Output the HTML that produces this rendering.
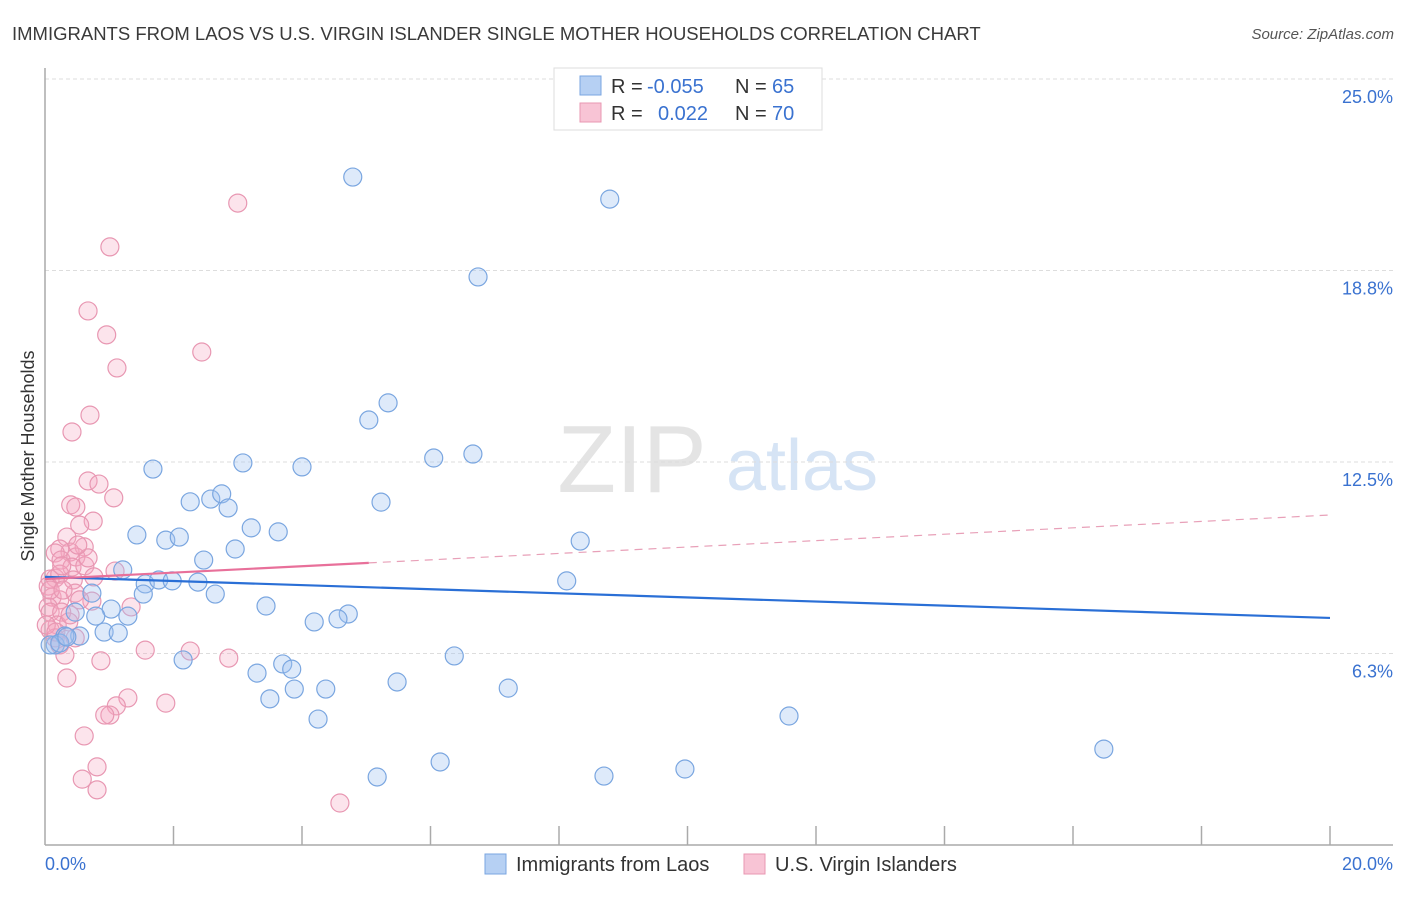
<!DOCTYPE html>
<html><head><meta charset="utf-8"><style>
body{margin:0;background:#fff;font-family:"Liberation Sans",sans-serif}
svg text{font-family:"Liberation Sans",sans-serif}
</style></head><body>
<svg id="c" width="1406" height="892" xmlns="http://www.w3.org/2000/svg">
<text x="12" y="40" font-size="18.5" fill="#3a3a3a">IMMIGRANTS FROM LAOS VS U.S. VIRGIN ISLANDER SINGLE MOTHER HOUSEHOLDS CORRELATION CHART</text>
<text x="1394" y="39" font-size="15" fill="#555" font-style="italic" text-anchor="end">Source: ZipAtlas.com</text>
<text x="632" y="492" font-size="96" fill="#e4e4e4" font-family="Liberation Serif" text-anchor="middle">ZIP</text>
<text x="802" y="490" font-size="72" fill="#d6e4f5" text-anchor="middle">atlas</text>
<text transform="translate(34,456) rotate(-90)" font-size="18" fill="#333" text-anchor="middle">Single Mother Households</text>
<g id="grid"></g><g id="pts"></g><g id="lines"></g>
<g>
<rect x="554" y="68" width="268" height="62" fill="#fff" stroke="#ddd"/>
<rect x="580" y="76" width="21" height="19" fill="#b6d0f3" stroke="#7aa6e0"/>
<rect x="580" y="103" width="21" height="19" fill="#f8c4d5" stroke="#e897b2"/>
<text x="611" y="93" font-size="20" fill="#333">R =</text>
<text x="647" y="93" font-size="20" fill="#3a72d0">-0.055</text>
<text x="735" y="93" font-size="20" fill="#333">N =</text>
<text x="772" y="93" font-size="20" fill="#3a72d0">65</text>
<text x="611" y="120" font-size="20" fill="#333">R =</text>
<text x="658" y="120" font-size="20" fill="#3a72d0">0.022</text>
<text x="735" y="120" font-size="20" fill="#333">N =</text>
<text x="772" y="120" font-size="20" fill="#3a72d0">70</text>
</g>
<g>
<rect x="485" y="854" width="21" height="20" fill="#b6d0f3" stroke="#7aa6e0"/>
<text x="516" y="871" font-size="20" fill="#333">Immigrants from Laos</text>
<rect x="744" y="854" width="21" height="20" fill="#f8c4d5" stroke="#e897b2"/>
<text x="775" y="871" font-size="20" fill="#333">U.S. Virgin Islanders</text>
</g>
</svg>
<script>
const yTicks=[25,18.75,12.5,6.25];
const yTickLabels=["25.0%","18.8%","12.5%","6.3%"];
const xTicks=[0,2,4,6,8,10,12,14,16,18,20];
const xTickLabels=["0.0%","20.0%"];
const laosX=[4.79,8.79,6.74,5.34,5.04,6.05,6.66,1.68,3.08,4.00,2.26,2.58,2.75,2.85,5.23,1.43,1.88,2.09,3.21,3.63,2.96,2.47,8.33,1.21,1.56,1.77,1.98,2.38,2.65,8.12,0.73,1.53,1.03,1.29,0.47,3.44,4.72,4.56,4.19,0.92,1.14,0.54,0.31,0.16,0.08,0.23,2.15,3.30,3.70,3.84,6.37,3.50,3.88,4.37,5.48,7.21,4.25,11.58,16.48,6.15,5.17,8.70,9.96,0.34,0.79];
const laosY=[21.80,21.08,18.54,14.43,13.87,12.63,12.76,12.27,12.47,12.34,11.20,11.29,11.46,11.00,11.19,10.12,9.95,10.05,10.35,10.22,9.66,9.30,9.92,8.98,8.52,8.65,8.62,8.58,8.19,8.62,8.22,8.19,7.70,7.47,7.60,7.80,7.54,7.38,7.28,6.95,6.92,6.82,6.82,6.53,6.53,6.59,6.04,5.61,5.91,5.74,6.17,4.77,5.09,5.09,5.32,5.12,4.11,4.21,3.13,2.71,2.22,2.25,2.48,6.79,7.47];
const viX=[3.00,1.01,0.67,0.96,1.12,2.44,0.70,0.42,0.67,0.84,1.07,0.40,0.48,0.75,0.54,0.34,0.61,0.39,0.23,0.16,0.25,0.48,0.42,0.62,0.16,0.08,0.05,0.76,1.09,0.44,0.11,0.23,0.05,0.47,1.34,0.73,0.08,0.26,0.19,0.08,0.37,0.16,0.23,0.31,0.47,0.87,1.56,2.26,2.86,0.34,1.29,1.88,1.11,1.01,0.93,0.61,0.81,0.58,0.81,4.59,0.23,0.08,0.26,0.67,0.51,0.02,0.17,0.28,0.54,0.39];
const viY=[20.95,19.52,17.43,16.65,15.57,16.09,14.03,13.48,11.88,11.78,11.33,11.10,11.03,10.57,10.44,10.05,9.73,9.56,9.66,9.53,9.30,9.40,9.07,9.11,8.71,8.68,8.45,8.75,8.94,8.65,8.09,8.00,7.77,8.22,7.77,7.96,7.60,7.60,7.18,7.02,7.28,6.76,6.53,6.20,6.76,6.01,6.36,6.33,6.10,5.45,4.80,4.63,4.54,4.24,4.24,3.56,2.55,2.15,1.80,1.37,8.84,8.32,9.11,9.37,9.79,7.18,6.95,8.32,8.00,7.51];
const laosTrend=[8.75,7.41];
const viTrend=[8.68,10.77];
const viSolidEnd=5.04;
const X=v=>45+v*64.25, Y=v=>845-v*30.64;
const NS="http://www.w3.org/2000/svg";
function mk(tag,attrs,parent){const e=document.createElementNS(NS,tag);for(const k in attrs)e.setAttribute(k,attrs[k]);parent.appendChild(e);return e;}
const grid=document.getElementById('grid');
yTicks.forEach((t,i)=>{
 const l=mk('line',{x1:45,x2:1393,y1:Y(t),y2:Y(t),stroke:'#ddd','stroke-dasharray':'4,3'},grid);
 
 
 const tx=mk('text',{x:1393,y:Y(t)+24,'font-size':18,fill:'#3a72d0','text-anchor':'end'},grid);
 tx.textContent=yTickLabels[i];
 
 
});
const ya=mk('line',{x1:45,x2:45,y1:68,y2:845,stroke:'#aaa','stroke-width':1.5},grid);


const xa=mk('line',{x1:45,x2:1393,y1:845,y2:845,stroke:'#aaa','stroke-width':1.5},grid);


xTicks.forEach(t=>{if(t===0)return;
 const l=mk('line',{x1:X(t),x2:X(t),y1:826,y2:845,stroke:'#aaa','stroke-width':1.5},grid);
 
 
});
[[0,'start',45],[20,'end',1393]].forEach((a,i)=>{
 const tx=mk('text',{x:a[2],y:870,'font-size':18,fill:'#3a72d0','text-anchor':a[1]},grid);
 tx.textContent=xTickLabels[i];
 
 
});
const pts=document.getElementById('pts');
viX.forEach((x,i)=>{
 const c=mk('circle',{cx:X(x),cy:Y(viY[i]),r:9,fill:'rgba(245,165,192,0.3)',stroke:'#e897b2','stroke-width':1.2},pts);
 
 
});
laosX.forEach((x,i)=>{
 const c=mk('circle',{cx:X(x),cy:Y(laosY[i]),r:9,fill:'rgba(160,195,240,0.35)',stroke:'#7aa6e0','stroke-width':1.2},pts);
 
 
});
const lines=document.getElementById('lines');
const lv=v=>viTrend[0]+(viTrend[1]-viTrend[0])*v/20;
const l1=mk('line',{x1:X(0),y1:Y(laosTrend[0]),x2:X(20),y2:Y(laosTrend[1]),stroke:'#2a6fd6','stroke-width':2.2},lines);


const l2=mk('line',{x1:X(0),y1:Y(lv(0)),x2:X(viSolidEnd),y2:Y(lv(viSolidEnd)),stroke:'#e8709a','stroke-width':2.2},lines);


const l3=mk('line',{x1:X(viSolidEnd),y1:Y(lv(viSolidEnd)),x2:X(20),y2:Y(lv(20)),stroke:'#e8a0b8','stroke-width':1.2,'stroke-dasharray':'8,6'},lines);


</script>
</body></html>
